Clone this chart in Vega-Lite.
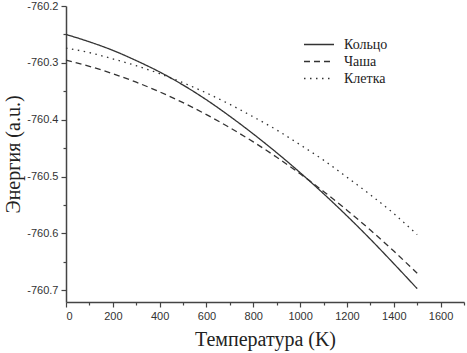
{
  "$schema": "https://vega.github.io/schema/vega-lite/v6.json",
  "width": 398,
  "height": 296,
  "autosize": {"type": "none"},
  "padding": {"left": 66, "top": 6, "right": 3, "bottom": 51},
  "background": "white",
  "config": {"view": {"stroke": null}},
  "data": {"values": [
    {"T": 0, "s": "Кольцо", "E": -760.250},
    {"T": 100, "s": "Кольцо", "E": -760.263},
    {"T": 200, "s": "Кольцо", "E": -760.278},
    {"T": 300, "s": "Кольцо", "E": -760.296},
    {"T": 400, "s": "Кольцо", "E": -760.316},
    {"T": 500, "s": "Кольцо", "E": -760.339},
    {"T": 600, "s": "Кольцо", "E": -760.365},
    {"T": 700, "s": "Кольцо", "E": -760.394},
    {"T": 800, "s": "Кольцо", "E": -760.425},
    {"T": 900, "s": "Кольцо", "E": -760.458},
    {"T": 1000, "s": "Кольцо", "E": -760.493},
    {"T": 1100, "s": "Кольцо", "E": -760.530},
    {"T": 1200, "s": "Кольцо", "E": -760.569},
    {"T": 1300, "s": "Кольцо", "E": -760.610},
    {"T": 1400, "s": "Кольцо", "E": -760.653},
    {"T": 1500, "s": "Кольцо", "E": -760.697},
    {"T": 0, "s": "Чаша", "E": -760.295},
    {"T": 100, "s": "Чаша", "E": -760.306},
    {"T": 200, "s": "Чаша", "E": -760.319},
    {"T": 300, "s": "Чаша", "E": -760.334},
    {"T": 400, "s": "Чаша", "E": -760.351},
    {"T": 500, "s": "Чаша", "E": -760.370},
    {"T": 600, "s": "Чаша", "E": -760.391},
    {"T": 700, "s": "Чаша", "E": -760.414},
    {"T": 800, "s": "Чаша", "E": -760.439},
    {"T": 900, "s": "Чаша", "E": -760.466},
    {"T": 1000, "s": "Чаша", "E": -760.495},
    {"T": 1100, "s": "Чаша", "E": -760.526},
    {"T": 1200, "s": "Чаша", "E": -760.559},
    {"T": 1300, "s": "Чаша", "E": -760.594},
    {"T": 1400, "s": "Чаша", "E": -760.631},
    {"T": 1500, "s": "Чаша", "E": -760.670},
    {"T": 0, "s": "Клетка", "E": -760.274},
    {"T": 100, "s": "Клетка", "E": -760.282},
    {"T": 200, "s": "Клетка", "E": -760.293},
    {"T": 300, "s": "Клетка", "E": -760.305},
    {"T": 400, "s": "Клетка", "E": -760.319},
    {"T": 500, "s": "Клетка", "E": -760.335},
    {"T": 600, "s": "Клетка", "E": -760.353},
    {"T": 700, "s": "Клетка", "E": -760.373},
    {"T": 800, "s": "Клетка", "E": -760.395},
    {"T": 900, "s": "Клетка", "E": -760.418},
    {"T": 1000, "s": "Клетка", "E": -760.444},
    {"T": 1100, "s": "Клетка", "E": -760.471},
    {"T": 1200, "s": "Клетка", "E": -760.501},
    {"T": 1300, "s": "Клетка", "E": -760.532},
    {"T": 1400, "s": "Клетка", "E": -760.565},
    {"T": 1500, "s": "Клетка", "E": -760.602}
  ]},
  "mark": {"type": "line", "interpolate": "monotone", "color": "#333333", "strokeWidth": 1.3},
  "encoding": {
    "x": {
      "field": "T", "type": "quantitative",
      "scale": {"domain": [0, 1700], "nice": false, "zero": false},
      "axis": {
        "title": "Температура (K)",
        "titleFont": "Liberation Serif", "titleFontSize": 20, "titleFontWeight": "normal",
        "titleColor": "#222222", "titlePadding": 8,
        "values": [0,100,200,300,400,500,600,700,800,900,1000,1100,1200,1300,1400,1500,1600,1700],
        "labelExpr": "datum.value % 200 == 0 && datum.value <= 1600 ? datum.label : ''",
        "format": "d",
        "labelFont": "Liberation Sans", "labelFontSize": 11, "labelColor": "#333333",
        "labelPadding": 3,
        "grid": false,
        "domainColor": "#444444", "domainWidth": 1.5,
        "tickColor": "#444444", "tickWidth": 1.2,
        "tickSize": {"condition": {"test": "datum.value % 200 == 0", "value": 5}, "value": 3}
      }
    },
    "y": {
      "field": "E", "type": "quantitative",
      "scale": {"domain": [-760.7205, -760.2], "nice": false, "zero": false},
      "axis": {
        "title": "Энергия (a.u.)",
        "titleFont": "Liberation Serif", "titleFontSize": 20, "titleFontWeight": "normal",
        "titleColor": "#222222", "titlePadding": 3,
        "values": [-760.7, -760.65, -760.6, -760.55, -760.5, -760.45, -760.4, -760.35, -760.3, -760.25, -760.2],
        "labelExpr": "abs(datum.value*10 - round(datum.value*10)) < 0.001 ? ('' + datum.value) : ''",
        "labelFont": "Liberation Sans", "labelFontSize": 11, "labelColor": "#333333",
        "labelPadding": 3,
        "grid": false,
        "domainColor": "#444444", "domainWidth": 1.5,
        "tickColor": "#444444", "tickWidth": 1.2,
        "tickSize": {"condition": {"test": "abs(datum.value*10 - round(datum.value*10)) < 0.001", "value": 5}, "value": 3}
      }
    },
    "strokeDash": {
      "field": "s", "type": "nominal",
      "scale": {"domain": ["Кольцо", "Чаша", "Клетка"], "range": [[1, 0], [6, 4], [1.5, 4.5]]},
      "legend": {
        "title": null,
        "orient": "none", "legendX": 237, "legendY": 30,
        "symbolType": "stroke", "symbolSize": 900, "symbolStrokeWidth": 1.3,
        "symbolStrokeColor": "#333333", "clipHeight": 17,
        "labelFont": "Liberation Serif", "labelFontSize": 14, "labelColor": "#222222",
        "rowPadding": 0, "labelOffset": 9, "symbolOffset": 0
      }
    }
  }
}
